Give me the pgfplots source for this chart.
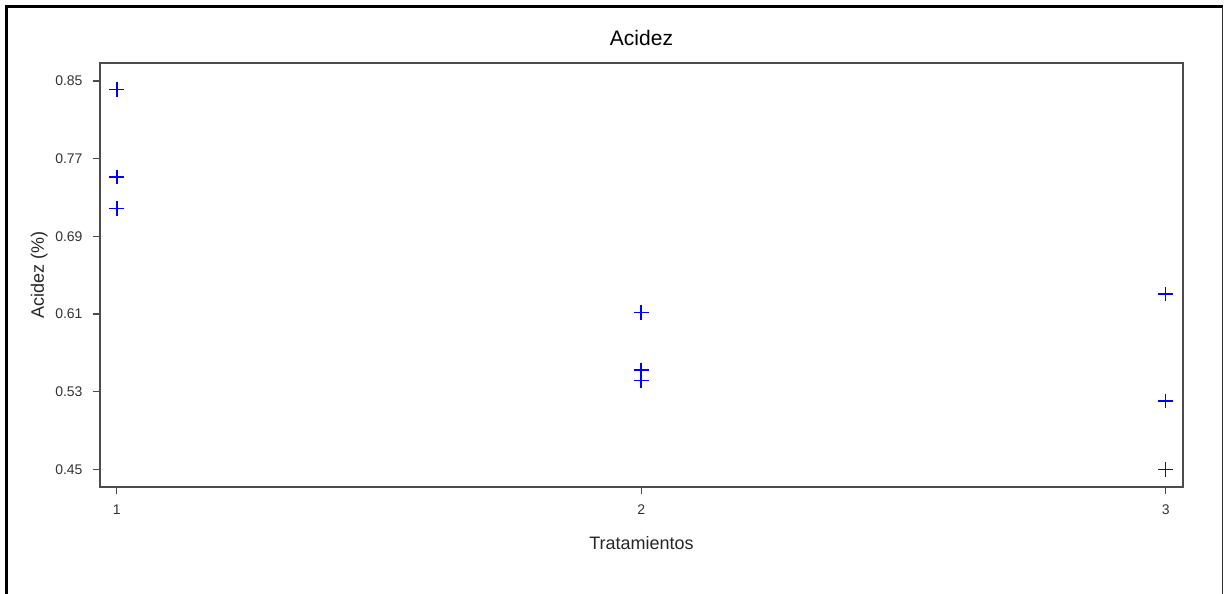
\documentclass[border=0pt]{standalone}
\usepackage{pgfplots}
\pgfplotsset{compat=1.18}
\usepackage{fontspec}
\setmainfont{Liberation Sans}
\begin{document}
\begin{tikzpicture}[x=1pt,y=1pt]
\useasboundingbox (0,0) rectangle (614,297);
\draw[line width=1.5pt,black] (3.2,-5) -- (3.2,293.6) -- (611.3,293.6);
\draw[line width=0.5pt,black!80] (611.3,293.6) -- (611.3,-5);
\begin{axis}[
  at={(50pt,53.5pt)}, anchor=south west,
  scale only axis, width=541.5pt, height=212pt,
  xmin=0.968, xmax=3.033, ymin=0.4318, ymax=0.8685,
  xtick={1,2,3}, ytick={0.45,0.53,0.61,0.69,0.77,0.85},
  y tick label style={/pgf/number format/fixed, /pgf/number format/fixed zerofill, /pgf/number format/precision=2},
  /pgf/number format/assume math mode=true,
  tick align=outside, major tick length=3.7pt,
  axis line style={black!70,line width=0.6pt},
  tick style={black!70,line width=0.6pt},
  xtick pos=bottom, ytick pos=left,
  ticklabel style={font=\fontsize{7}{8}\selectfont, text=black!80},
  xticklabel style={yshift=-1.5pt},
  yticklabel style={xshift=-1.5pt},
  title={Acidez}, title style={font=\fontsize{10.5}{12}\selectfont, yshift=-1pt},
  xlabel={Tratamientos}, ylabel={Acidez (\%)},
  label style={font=\fontsize{9}{11}\selectfont, text=black!85},
  xlabel style={yshift=-4pt},
  ylabel style={yshift=-3pt},
]
\addplot[only marks, color=blue, mark=+, mark size=3.7pt, mark options={draw=blue, line width=0.75pt}]
coordinates {
(1,0.8414) (1,0.7511) (1,0.7185)
(2,0.6113) (2,0.5523) (2,0.5413)
(3,0.6306) (3,0.5204) (3,0.4500)
};
\end{axis}
\end{tikzpicture}
\end{document}
